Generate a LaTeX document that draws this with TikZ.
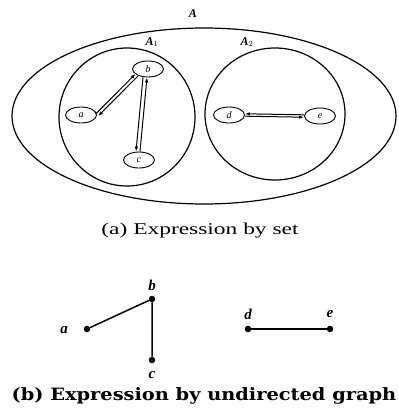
\documentclass[tikz,border=0pt]{standalone}
\usepackage{fontspec}
\setmainfont{Liberation Serif}
\newfontfamily\capfont{DejaVu Serif}
\usetikzlibrary{calc,arrows.meta,shapes.geometric}
\begin{document}
\begin{tikzpicture}[x=1pt,y=-1pt,
  set/.style={line width=1.2pt},
  vtx/.style={draw,ellipse,line width=0.9pt,minimum width=31pt,minimum height=16pt,inner sep=0pt,font=\itshape\fontsize{10}{10}\selectfont},
  arr/.style={line width=1pt,-{Latex[length=5pt,width=3.5pt]}},
  dot/.style={circle,fill,inner sep=0pt,minimum size=6.5pt},
  lbl/.style={font=\bfseries\itshape\fontsize{15}{15}\selectfont},
  setlbl/.style={font=\bfseries\itshape\fontsize{12}{12}\selectfont},
  captxt/.style={font=\fontsize{16.5}{16.5}\selectfont},
  captxtb/.style={font=\capfont\bfseries\fontsize{17}{17}\selectfont}]
\useasboundingbox (0,0) rectangle (399,410);
% sets
\draw[set] (204,116) ellipse [x radius=192, y radius=88];
\draw[set] (127,117) ellipse [x radius=68, y radius=69];
\draw[set] (275,114) ellipse [x radius=70, y radius=66];
\node[setlbl] (lA) at (193,14) {A};
\node[setlbl] (lA1) at (152,42) {A$_1$};
\node[setlbl] (lA2) at (247,42) {A$_2$};
% vertices in set view
\node[vtx] (a) at (81,115) {a};
\node[vtx] (b) at (148,69) {b};
\node[vtx] (c) at (139,160) {c};
\node[vtx] (d) at (229,115) {d};
\node[vtx] (e) at (320,116) {e};
% a-b
\draw[arr] ($(a.east)!1.6pt!90:(b.south west)$) -- ($(b.south west)!1.6pt!-90:(a.east)$);
\draw[arr] ($(b.south west)!1.6pt!90:(a.east)$) -- ($(a.east)!1.6pt!-90:(b.south west)$);
% b-c
\draw[arr] ([xshift=-5pt]b.south) -- ([xshift=-3pt]c.north);
\draw[arr] ([xshift=1pt]c.north) -- ([xshift=-1pt]b.south);
% d-e
\draw[arr] ([yshift=-1.2pt]d.east) -- ([yshift=-1.2pt]e.west);
\draw[arr] ([yshift=1.2pt]e.west) -- ([yshift=1.2pt]d.east);
\node[captxt] (capa) at (200,231) {\scalebox{1.42}[1]{(a) Expression by set}};
% undirected graph
\node[dot] (ua) at (87,329) {};
\node[dot] (ub) at (152,299) {};
\node[dot] (uc) at (152,360) {};
\node[dot] (ud) at (248,329) {};
\node[dot] (ue) at (330,329) {};
\draw[line width=1.5pt] (ua) -- (ub) -- (uc);
\draw[line width=1.2pt] (ud) -- (ue);
\node[lbl] (tla) at (64,330) {a};
\node[lbl] (tlb) at (152,285) {b};
\node[lbl] (tlc) at (152,375) {c};
\node[lbl] (tld) at (248,314) {d};
\node[lbl] (tle) at (330,314) {e};
\node[captxtb] (capb) at (204,396) {\scalebox{1.14}[1]{(b) Expression by undirected graph}};
\end{tikzpicture}
\end{document}
